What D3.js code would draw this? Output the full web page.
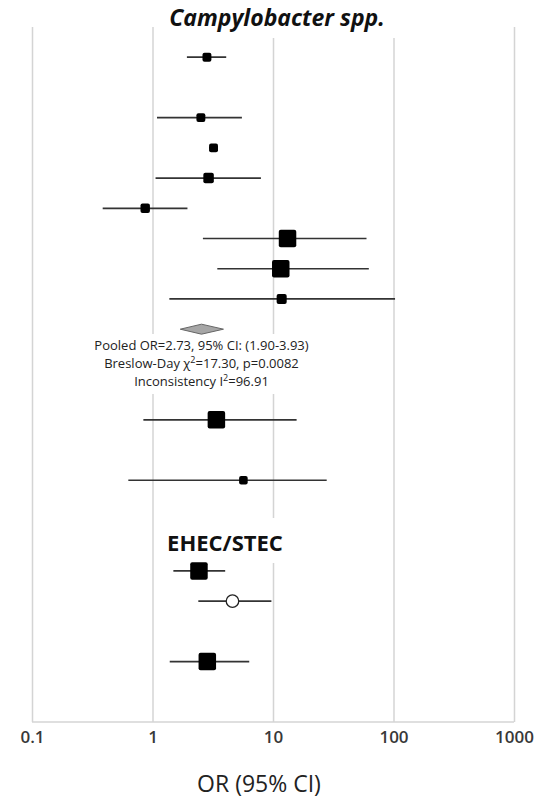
<!DOCTYPE html>
<html lang="en">
<head>
<meta charset="UTF-8" />
<title>Forest plot - Campylobacter spp. / EHEC/STEC</title>
<script src="https://cdn.jsdelivr.net/npm/d3@7"></script>
<style>
  html, body { margin: 0; padding: 0; background: #fff; }
  svg { display: block; font-family: "Open Sans", "DejaVu Sans", sans-serif; }
</style>
</head>
<body>
<svg id="chart" width="543" height="798"></svg>
<script>
// row slot of each study on the vertical axis (0 = top row)
const rowSlot = [0, 2, 3, 4, 5, 6, 7, 8, 12, 14, 17, 18, 20];
const oddsRatio = [2.83, 2.52, 3.21, 2.92, 0.87, 13.2, 11.6, 11.8, 3.39, 5.68, 2.43, 4.61, 2.85];
const ciLow  = [1.93, 1.09, 2.95, 1.06, 0.386, 2.62, 3.45, 1.38, 0.84, 0.63, 1.49, 2.40, 1.39];
const ciHigh = [4.09, 5.52, 3.45, 7.94, 1.95, 59.7, 62.4, 103, 15.7, 27.9, 4.01, 9.7, 6.35];
const studyWeight = [26, 26, 26, 36, 29, 100, 100, 33, 100, 24, 100, 51, 100];
const markerType = ["square", "square", "square", "square", "square", "square", "square",
                    "square", "square", "square", "square", "circle", "square"];

// pooled estimate (Campylobacter)
const pooledSlot = 9;
const pooled = { or: 2.55, lo: 1.70, hi: 3.88 };
const pooledText = ["Pooled OR=2.73, 95% CI: (1.90-3.93)", "Breslow-Day χ|=17.30, p=0.0082", "Inconsistency I|=96.91"];

const tickValues = [0.1, 1, 10, 100, 1000];
const tickLabels = ["0.1", "1", "10", "100", "1000"];

const svg = d3.select("#chart");
const plotLeft = 32, plotRight = 514, plotTop = 27, plotBottom = 722;

const x = d3.scaleLog().domain([0.1, 1000]).range([plotLeft, plotRight]);
const y = d3.scaleLinear().domain([-1, 22]).range([plotTop, plotBottom]);
const side = d3.scaleSqrt().domain([0, 100]).range([0, 17.5]);

// gridlines
svg.append("g")
  .attr("transform", `translate(0,${plotBottom})`)
  .call(d3.axisBottom(x).tickValues(tickValues).tickSize(-(plotBottom - plotTop)).tickFormat(""))
  .call(g => g.select(".domain").remove())
  .call(g => g.selectAll(".tick line").attr("stroke", "#d4d4d4").attr("stroke-width", 1.5));

// bottom axis line + labels
svg.append("line")
  .attr("x1", plotLeft).attr("x2", plotRight).attr("y1", plotBottom).attr("y2", plotBottom)
  .attr("stroke", "#d4d4d4").attr("stroke-width", 1.5);

svg.append("g")
  .attr("transform", `translate(0,${plotBottom})`)
  .call(d3.axisBottom(x).tickValues(tickValues).tickSize(0).tickPadding(9)
        .tickFormat((d, i) => tickLabels[i]))
  .call(g => g.select(".domain").remove())
  .call(g => g.selectAll("text")
    .attr("font-family", "'Open Sans', sans-serif")
    .attr("font-size", 17).attr("font-weight", 600).attr("fill", "#383838"));

// white text boxes that sit over the grid
svg.append("rect").attr("x", 158).attr("y", 0).attr("width", 240).attr("height", 38).attr("fill", "#fff");
svg.append("rect").attr("x", 82).attr("y", 334).attr("width", 240).attr("height", 60).attr("fill", "#fff");
svg.append("rect").attr("x", 160).attr("y", 518).attr("width", 128).attr("height", 45).attr("fill", "#fff");

// titles
svg.append("text")
  .attr("x", 277).attr("y", 26)
  .attr("text-anchor", "middle")
  .attr("font-size", 23).attr("font-weight", 700).attr("font-style", "italic")
  .attr("fill", "#111")
  .text("Campylobacter spp.");

svg.append("text")
  .attr("x", 225).attr("y", 551)
  .attr("text-anchor", "middle")
  .attr("font-size", 22).attr("font-weight", 700)
  .attr("fill", "#111")
  .text("EHEC/STEC");

svg.append("text")
  .attr("x", 259).attr("y", 792)
  .attr("text-anchor", "middle")
  .attr("font-size", 23)
  .attr("fill", "#222")
  .text("OR (95% CI)");

// studies
const studies = rowSlot.map((s, i) => ({
  slot: s, or: oddsRatio[i], lo: ciLow[i], hi: ciHigh[i], w: studyWeight[i], type: markerType[i]
}));

svg.append("g").selectAll("line")
  .data(studies)
  .join("line")
  .attr("x1", d => x(d.lo)).attr("x2", d => x(d.hi))
  .attr("y1", d => y(d.slot)).attr("y2", d => y(d.slot))
  .attr("stroke", "#333").attr("stroke-width", 1.7);

svg.append("g").selectAll("rect")
  .data(studies.filter(d => d.type === "square"))
  .join("rect")
  .attr("x", d => x(d.or) - side(d.w) / 2)
  .attr("y", d => y(d.slot) - side(d.w) / 2)
  .attr("width", d => side(d.w)).attr("height", d => side(d.w))
  .attr("rx", 2)
  .attr("fill", "#000");

svg.append("g").selectAll("circle")
  .data(studies.filter(d => d.type === "circle"))
  .join("circle")
  .attr("cx", d => x(d.or)).attr("cy", d => y(d.slot))
  .attr("r", d => side(d.w) / 2)
  .attr("fill", "#fff").attr("stroke", "#222").attr("stroke-width", 1.3);

// pooled diamond
const py = y(pooledSlot);
svg.append("path")
  .attr("d", `M${x(pooled.lo)},${py}L${x(pooled.or)},${py - 5}L${x(pooled.hi)},${py}L${x(pooled.or)},${py + 5}Z`)
  .attr("fill", "#a6a6a6").attr("stroke", "#666").attr("stroke-width", 1);

const stats = svg.append("g")
  .attr("font-size", 13).attr("fill", "#222").attr("text-anchor", "middle");
pooledText.forEach((line, i) => {
  const t = stats.append("text").attr("x", x(pooled.or)).attr("y", 350 + i * 17.8);
  const parts = line.split("|");
  t.append("tspan").text(parts[0]);
  if (parts.length > 1) {
    t.append("tspan").attr("dy", -5).attr("font-size", 9).text("2");
    t.append("tspan").attr("dy", 5).text(parts[1]);
  }
});
</script>
</body>
</html>
